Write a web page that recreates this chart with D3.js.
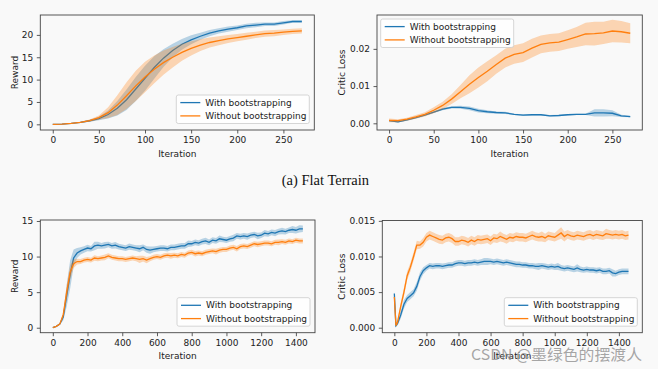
<!DOCTYPE html>
<html>
<head>
<meta charset="utf-8">
<script src="https://d3js.org/d3.v7.min.js"></script>
<style>
  body { margin: 0; background: #f9f9f9; }
  svg text { font-family: "DejaVu Sans", sans-serif; }
</style>
</head>
<body>
<script>
// ---- data ----
var seriesNames = ["With bootstrapping", "Without bootstrapping"];
var colors = ["#1f77b4", "#ff7f0e"];

// (a) Flat terrain, iterations 0..270 every 10
var flatIters = d3.range(0, 271, 10);
var flatRewardWith = [0, 0.05, 0.2, 0.45, 0.8, 1.3, 2.2, 3.6, 5.5, 7.9,
  10.3, 12.7, 14.8, 16.5, 17.9, 18.9, 19.7, 20.4, 20.9, 21.3,
  21.6, 22.0, 22.2, 22.4, 22.4, 22.7, 23.0, 23.0];
var flatRewardWithSd = [0, 0.02, 0.05, 0.1, 0.2, 0.4, 0.9, 1.6, 2.3, 2.7,
  2.8, 2.5, 2.0, 1.5, 1.2, 1.0, 0.8, 0.7, 0.6, 0.6,
  0.5, 0.5, 0.5, 0.4, 0.4, 0.4, 0.3, 0.3];
var flatRewardWithout = [0, 0.05, 0.2, 0.45, 0.85, 1.5, 2.6, 4.3, 6.4, 8.6,
  10.6, 12.3, 13.8, 15.0, 16.1, 17.0, 17.7, 18.3, 18.7, 19.1,
  19.4, 19.7, 20.0, 20.3, 20.4, 20.6, 20.8, 20.9];
var flatRewardWithoutSd = [0, 0.02, 0.05, 0.1, 0.25, 0.5, 1.2, 2.2, 3.0, 3.4,
  3.4, 3.1, 2.7, 2.3, 1.9, 1.6, 1.3, 1.1, 1.0, 0.9,
  0.8, 0.8, 0.7, 0.7, 0.7, 0.6, 0.6, 0.6];

var flatLossWith = [0.0007, 0.0004, 0.0009, 0.0015, 0.0022, 0.0030, 0.0038, 0.0043, 0.0043, 0.0040,
  0.0034, 0.0031, 0.0029, 0.0028, 0.0024, 0.0022, 0.0023, 0.0023, 0.0020, 0.0021,
  0.0023, 0.0024, 0.0024, 0.0028, 0.0028, 0.0027, 0.0020, 0.0018];
var flatLossWithSd = [0.0002, 0.0002, 0.0002, 0.0002, 0.0002, 0.0002, 0.0003, 0.0003, 0.0004, 0.0005,
  0.0005, 0.0004, 0.0003, 0.0003, 0.0002, 0.0002, 0.0002, 0.0002, 0.0002, 0.0002,
  0.0002, 0.0002, 0.0002, 0.0010, 0.0010, 0.0008, 0.0003, 0.0002];
var flatLossWithout = [0.0008, 0.0007, 0.0011, 0.0017, 0.0024, 0.0035, 0.0048, 0.0065, 0.0085, 0.0105,
  0.0123, 0.0140, 0.0158, 0.0175, 0.0185, 0.0190, 0.0202, 0.0212, 0.0216, 0.0218,
  0.0225, 0.0232, 0.0240, 0.0241, 0.0243, 0.0248, 0.0246, 0.0242];
var flatLossWithoutSd = [0.0005, 0.0004, 0.0004, 0.0005, 0.0006, 0.0008, 0.0010, 0.0013, 0.0018, 0.0024,
  0.0027, 0.0027, 0.0025, 0.0025, 0.0025, 0.0025, 0.0025, 0.0024, 0.0024, 0.0024,
  0.0025, 0.0027, 0.0030, 0.0032, 0.0030, 0.0030, 0.0029, 0.0027];

// second terrain, reward: iterations 0..1440 every 20
var longIters = d3.range(0, 1441, 20);
var longRewardWith = [0, 0.2, 0.5, 1.5, 4.5, 7.5, 9.8, 10.5, 10.8, 11.0,
  11.2, 11.1, 11.5, 11.6, 11.5, 11.6, 11.7, 11.5, 11.6, 11.4,
  11.3, 11.2, 11.4, 11.3, 11.2, 11.1, 11.3, 11.0, 10.9, 11.0,
  11.1, 11.2, 11.2, 11.1, 11.3, 11.3, 11.4, 11.5, 11.5, 11.8,
  11.8, 12.0, 11.9, 12.1, 12.2, 12.0, 12.3, 12.2, 12.5, 12.4,
  12.3, 12.5, 12.6, 12.9, 12.8, 12.9, 12.8, 13.0, 13.1, 12.9,
  13.0, 13.3, 13.2, 13.4, 13.3, 13.5, 13.6, 13.5, 13.7, 13.8,
  13.7, 13.9, 13.9];
var longRewardWithSd = [0, 0.05, 0.1, 0.5, 1.5, 2.0, 1.2, 0.7, 0.5, 0.45,
  0.45, 0.4, 0.6, 0.5, 0.4, 0.45, 0.4, 0.4, 0.45, 0.4,
  0.4, 0.4, 0.45, 0.4, 0.4, 0.5, 0.4, 0.45, 0.5, 0.4,
  0.4, 0.4, 0.4, 0.4, 0.4, 0.4, 0.4, 0.4, 0.4, 0.45,
  0.4, 0.4, 0.4, 0.4, 0.45, 0.4, 0.4, 0.4, 0.45, 0.4,
  0.4, 0.4, 0.45, 0.4, 0.4, 0.4, 0.45, 0.4, 0.4, 0.45,
  0.4, 0.45, 0.4, 0.4, 0.45, 0.4, 0.45, 0.4, 0.4, 0.5,
  0.45, 0.5, 0.45];
var longRewardWithout = [0, 0.2, 0.5, 1.8, 5.0, 7.8, 9.0, 9.3, 9.3, 9.5,
  9.6, 9.5, 9.8, 9.7, 9.8, 9.9, 10.1, 9.9, 9.8, 9.7,
  9.7, 9.6, 9.7, 9.8, 9.7, 9.6, 9.7, 9.5, 9.7, 9.9,
  10.0, 9.9, 10.1, 10.2, 10.1, 10.2, 10.1, 10.3, 10.2, 10.5,
  10.6, 10.4, 10.5, 10.4, 10.6, 10.7, 10.8, 10.7, 10.9, 11.0,
  11.0, 11.2, 11.3, 11.1, 11.4, 11.5, 11.4, 11.6, 11.8, 11.7,
  11.8, 11.9, 11.9, 11.8, 12.0, 12.0, 12.1, 12.0, 12.2, 12.1,
  12.3, 12.2, 12.2];
var longRewardWithoutSd = [0, 0.05, 0.1, 0.4, 1.0, 1.0, 0.6, 0.4, 0.35, 0.35,
  0.35, 0.35, 0.4, 0.35, 0.35, 0.4, 0.35, 0.35, 0.35, 0.35,
  0.35, 0.35, 0.35, 0.35, 0.35, 0.5, 0.4, 0.45, 0.35, 0.35,
  0.35, 0.35, 0.35, 0.35, 0.4, 0.35, 0.35, 0.35, 0.35, 0.35,
  0.35, 0.4, 0.35, 0.35, 0.35, 0.35, 0.35, 0.4, 0.35, 0.35,
  0.35, 0.35, 0.35, 0.4, 0.35, 0.35, 0.35, 0.35, 0.35, 0.4,
  0.35, 0.35, 0.35, 0.35, 0.35, 0.4, 0.35, 0.35, 0.35, 0.35,
  0.35, 0.35, 0.35];

// second terrain, critic loss: iterations 0, 10, then every 20 to 1460
var lossIters = [0, 10].concat(d3.range(20, 1461, 20));
var longLossWith = [0.0048, 0.0003, 0.0006, 0.0018, 0.0033, 0.0041, 0.0045, 0.0049, 0.0058, 0.0072, 0.0080, 0.0084,
  0.0087, 0.0086, 0.0087, 0.0087, 0.0086, 0.0087, 0.0088, 0.0088, 0.0090, 0.0091,
  0.0091, 0.0090, 0.0091, 0.0091, 0.0092, 0.0091, 0.0092, 0.0093, 0.0093, 0.0093,
  0.0092, 0.0093, 0.0092, 0.0091, 0.0092, 0.0091, 0.0090, 0.0089, 0.0089, 0.0088,
  0.0088, 0.0087, 0.0087, 0.0086, 0.0086, 0.0087, 0.0086, 0.0085, 0.0086, 0.0085,
  0.0086, 0.0084, 0.0083, 0.0084, 0.0083, 0.0082, 0.0084, 0.0082, 0.0081, 0.0082,
  0.0081, 0.0081, 0.0080, 0.0081, 0.0079, 0.0079, 0.0080, 0.0077, 0.0076, 0.0078,
  0.0079, 0.0079, 0.0079];
var longLossWithSd = [0.0002, 0.0002, 0.0003, 0.0005, 0.0006, 0.0005, 0.0005, 0.0005, 0.0006, 0.0006, 0.0005, 0.0004,
  0.0004, 0.0004, 0.0004, 0.0004, 0.0004, 0.0004, 0.0004, 0.0004, 0.0004, 0.0004,
  0.0004, 0.0004, 0.0004, 0.0004, 0.0004, 0.0004, 0.0004, 0.0005, 0.0005, 0.0004,
  0.0004, 0.0004, 0.0004, 0.0004, 0.0004, 0.0004, 0.0004, 0.0004, 0.0004, 0.0004,
  0.0004, 0.0004, 0.0004, 0.0004, 0.0005, 0.0004, 0.0004, 0.0004, 0.0004, 0.0004,
  0.0005, 0.0004, 0.0004, 0.0004, 0.0004, 0.0004, 0.0005, 0.0004, 0.0004, 0.0004,
  0.0004, 0.0004, 0.0004, 0.0004, 0.0004, 0.0004, 0.0004, 0.0005, 0.0004, 0.0004,
  0.0004, 0.0004, 0.0004];
var longLossWithout = [0.0043, 0.0003, 0.0008, 0.0030, 0.0050, 0.0073, 0.0085, 0.0100, 0.0116, 0.0116, 0.0120, 0.0127,
  0.0130, 0.0128, 0.0126, 0.0124, 0.0123, 0.0126, 0.0127, 0.0125, 0.0121, 0.0121,
  0.0123, 0.0122, 0.0120, 0.0123, 0.0121, 0.0124, 0.0123, 0.0124, 0.0125, 0.0122,
  0.0126, 0.0125, 0.0128, 0.0126, 0.0124, 0.0127, 0.0126, 0.0128, 0.0127, 0.0127,
  0.0126, 0.0128, 0.0130, 0.0128, 0.0127, 0.0128, 0.0126, 0.0129, 0.0128, 0.0127,
  0.0130, 0.0133, 0.0128, 0.0131, 0.0129, 0.0128, 0.0130, 0.0129, 0.0128, 0.0130,
  0.0131, 0.0129, 0.0131, 0.0130, 0.0129, 0.0132, 0.0131, 0.0130, 0.0131, 0.0130,
  0.0131, 0.0129, 0.0130];
var longLossWithoutSd = [0.0003, 0.0002, 0.0003, 0.0005, 0.0006, 0.0006, 0.0006, 0.0006, 0.0006, 0.0005, 0.0006, 0.0006,
  0.0006, 0.0006, 0.0006, 0.0006, 0.0006, 0.0006, 0.0006, 0.0006, 0.0006, 0.0006,
  0.0006, 0.0006, 0.0006, 0.0006, 0.0006, 0.0006, 0.0006, 0.0006, 0.0006, 0.0006,
  0.0006, 0.0006, 0.0007, 0.0006, 0.0006, 0.0006, 0.0006, 0.0006, 0.0006, 0.0006,
  0.0006, 0.0006, 0.0006, 0.0006, 0.0006, 0.0007, 0.0006, 0.0006, 0.0006, 0.0006,
  0.0007, 0.0008, 0.0007, 0.0006, 0.0006, 0.0006, 0.0006, 0.0006, 0.0006, 0.0006,
  0.0006, 0.0006, 0.0006, 0.0006, 0.0006, 0.0007, 0.0006, 0.0006, 0.0006, 0.0006,
  0.0006, 0.0006, 0.0006];

var shortTicks = [0, 50, 100, 150, 200, 250];
var longTicks = [0, 200, 400, 600, 800, 1000, 1200, 1400];

// ---- drawing ----
var width = 658, height = 369;
var svg = d3.select("body").append("svg")
  .attr("width", width)
  .attr("height", height);

svg.append("rect").attr("width", width).attr("height", height).attr("fill", "#f9f9f9");

function drawPanel(p) {
  var x = d3.scaleLinear().domain(p.xDomain).range([p.left, p.right]);
  var y = d3.scaleLinear().domain(p.yDomain).range([p.bottom, p.top]);
  var g = svg.append("g");

  p.series.forEach(function(s, k) {
    var pts = s.mean.map(function(v, i) { return {x: p.iters[i], m: v, sd: s.sd[i]}; });
    g.append("path").datum(pts)
      .attr("d", d3.area().x(d => x(d.x)).y0(d => y(d.m - d.sd)).y1(d => y(d.m + d.sd)))
      .attr("fill", colors[k]).attr("fill-opacity", 0.3);
    g.append("path").datum(pts)
      .attr("d", d3.line().x(d => x(d.x)).y(d => y(d.m)))
      .attr("fill", "none").attr("stroke", colors[k]).attr("stroke-width", 1.3);
  });

  var xa = g.append("g").attr("transform", "translate(0," + p.bottom + ")")
    .call(d3.axisBottom(x).tickValues(p.xTicks).tickSize(3.5).tickPadding(3.5).tickFormat(d3.format("d")));
  var ya = g.append("g").attr("transform", "translate(" + p.left + ",0)")
    .call(d3.axisLeft(y).tickValues(p.yTicks).tickSize(3.5).tickPadding(3.5).tickFormat(p.yFormat));
  [xa, ya].forEach(function(a) {
    a.select(".domain").remove();
    a.selectAll("line").attr("stroke", "#333").attr("stroke-width", 0.8);
    a.selectAll("text").attr("font-size", 9).attr("fill", "#222")
      .attr("font-family", "DejaVu Sans, sans-serif");
  });

  g.append("rect")
    .attr("x", p.left).attr("y", p.top)
    .attr("width", p.right - p.left).attr("height", p.bottom - p.top)
    .attr("fill", "none").attr("stroke", "#444").attr("stroke-width", 0.9);

  g.append("text")
    .attr("x", (p.left + p.right) / 2).attr("y", p.bottom + 26.5)
    .attr("text-anchor", "middle").attr("font-size", 9).attr("fill", "#222")
    .text("Iteration");
  g.append("text")
    .attr("transform", "translate(" + p.labelX + "," + ((p.top + p.bottom) / 2) + ") rotate(-90)")
    .attr("text-anchor", "middle").attr("dy", "0.35em").attr("font-size", 9).attr("fill", "#222")
    .text(p.yLabel);

  // legend
  var lw = 133, lh = 28.5;
  var lx = p.legend === "upper left" ? p.left + 3.7 : p.right - 5 - lw;
  var ly = p.legend === "upper left" ? p.top + 4 : p.bottom - 6.5 - lh;
  var lg = g.append("g").attr("transform", "translate(" + lx + "," + ly + ")");
  lg.append("rect").attr("width", lw).attr("height", lh).attr("rx", 2)
    .attr("fill", "#ffffff").attr("fill-opacity", 0.8).attr("stroke", "#ccc").attr("stroke-width", 0.8);
  seriesNames.forEach(function(name, k) {
    var ry = 7.6 + k * 13.3;
    lg.append("line").attr("x1", 4).attr("x2", 24).attr("y1", ry).attr("y2", ry)
      .attr("stroke", colors[k]).attr("stroke-width", 1.3);
    lg.append("text").attr("x", 29).attr("y", ry).attr("dy", "0.35em")
      .attr("font-size", 9).attr("fill", "#222").text(name);
  });
}

drawPanel({
  left: 40.3, right: 314.3, top: 15, bottom: 130, labelX: 15,
  xDomain: [-13.5, 283.5], yDomain: [-1.27, 24.45],
  xTicks: shortTicks, yTicks: [0, 5, 10, 15, 20], yFormat: d3.format("d"),
  yLabel: "Reward", legend: "lower right", iters: flatIters,
  series: [{mean: flatRewardWith, sd: flatRewardWithSd}, {mean: flatRewardWithout, sd: flatRewardWithoutSd}]
});
drawPanel({
  left: 377, right: 642.3, top: 15, bottom: 130, labelX: 342.3,
  xDomain: [-13.5, 283.5], yDomain: [-0.0018, 0.0291],
  xTicks: shortTicks, yTicks: [0, 0.01, 0.02], yFormat: d3.format(".2f"),
  yLabel: "Critic Loss", legend: "upper left", iters: flatIters,
  series: [{mean: flatLossWith, sd: flatLossWithSd}, {mean: flatLossWithout, sd: flatLossWithoutSd}]
});
drawPanel({
  left: 40.3, right: 315, top: 220, bottom: 332.7, labelX: 15,
  xDomain: [-72, 1510], yDomain: [-0.70, 15.14],
  xTicks: longTicks, yTicks: [0, 5, 10, 15], yFormat: d3.format("d"),
  yLabel: "Reward", legend: "lower right", iters: longIters,
  series: [{mean: longRewardWith, sd: longRewardWithSd}, {mean: longRewardWithout, sd: longRewardWithoutSd}]
});
drawPanel({
  left: 382.3, right: 642.3, top: 220.5, bottom: 332.7, labelX: 342.3,
  xDomain: [-75, 1546], yDomain: [-0.0007, 0.01505],
  xTicks: longTicks, yTicks: [0, 0.005, 0.010, 0.015], yFormat: d3.format(".3f"),
  yLabel: "Critic Loss", legend: "lower right", iters: lossIters,
  series: [{mean: longLossWith, sd: longLossWithSd}, {mean: longLossWithout, sd: longLossWithoutSd}]
});

// sub-figure caption
svg.append("text")
  .attr("x", 325.4).attr("y", 185)
  .attr("text-anchor", "middle")
  .style("font-family", "'Liberation Serif', 'Times New Roman', serif")
  .style("font-size", "14.5px").attr("fill", "#111")
  .text("(a) Flat Terrain");

// watermark
svg.append("text")
  .attr("x", 471).attr("y", 359.5)
  .attr("textLength", 171).attr("lengthAdjust", "spacingAndGlyphs")
  .style("font-family", "'Noto Sans CJK SC', sans-serif")
  .style("font-size", "15px")
  .attr("fill", "#8a8a8a").attr("fill-opacity", 0.75)
  .text("CSDN @墨绿色的摆渡人");
</script>
</body>
</html>
